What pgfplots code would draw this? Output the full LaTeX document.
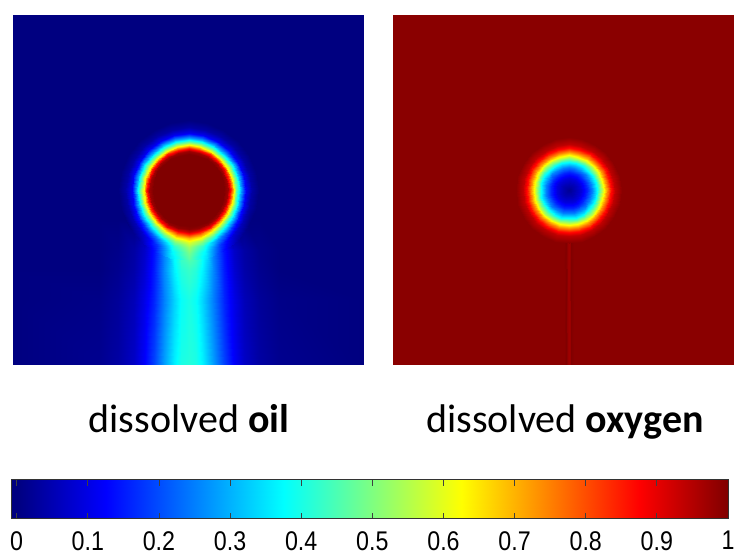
\documentclass[border=0pt]{standalone}
\usepackage{pgfplots}
\pgfplotsset{compat=1.18}
\usepackage{fontspec}
\setmainfont{Carlito}
\newfontfamily\ticksfont[FakeStretch=0.86]{Liberation Sans}
\begin{document}
\begin{tikzpicture}
\useasboundingbox (0,0) rectangle (734pt,556pt);
\pgfplotsset{panel/.style={scale only axis, hide axis, anchor=south west,
  colormap/jet, point meta min=0, point meta max=1,
  ymin=-174.5, ymax=175.5, height=350pt}}
% ---------------- dissolved oil ----------------
\begin{axis}[panel, at={(13pt,191pt)}, width=351pt, xmin=-175.5, xmax=175.5]
\addplot[surf, shader=interp, mesh/cols=19, point meta=explicit] coordinates {
(-175.5,-174.5)[0] (-90,-174.5)[0.015] (-70,-174.5)[0.035] (-55,-174.5)[0.07] (-45,-174.5)[0.12] (-35,-174.5)[0.19] (-25,-174.5)[0.28] (-15,-174.5)[0.36] (-7,-174.5)[0.40] (0,-174.5)[0.41] (7,-174.5)[0.40] (15,-174.5)[0.36] (25,-174.5)[0.28] (35,-174.5)[0.19] (45,-174.5)[0.12] (55,-174.5)[0.07] (70,-174.5)[0.035] (90,-174.5)[0.015] (175.5,-174.5)[0]
(-175.5,-110)[0] (-90,-110)[0.008] (-70,-110)[0.025] (-55,-110)[0.055] (-45,-110)[0.10] (-35,-110)[0.16] (-25,-110)[0.25] (-15,-110)[0.33] (-7,-110)[0.38] (0,-110)[0.40] (7,-110)[0.38] (15,-110)[0.33] (25,-110)[0.25] (35,-110)[0.16] (45,-110)[0.10] (55,-110)[0.055] (70,-110)[0.025] (90,-110)[0.008] (175.5,-110)[0]
(-175.5,-80)[0] (-90,-80)[0] (-70,-80)[0.015] (-55,-80)[0.04] (-45,-80)[0.08] (-35,-80)[0.15] (-25,-80)[0.26] (-15,-80)[0.36] (-7,-80)[0.41] (0,-80)[0.43] (7,-80)[0.41] (15,-80)[0.36] (25,-80)[0.26] (35,-80)[0.15] (45,-80)[0.08] (55,-80)[0.04] (70,-80)[0.015] (90,-80)[0] (175.5,-80)[0]
(-175.5,-60)[0] (-90,-60)[0] (-70,-60)[0.01] (-55,-60)[0.035] (-45,-60)[0.07] (-35,-60)[0.14] (-25,-60)[0.25] (-15,-60)[0.38] (-7,-60)[0.45] (0,-60)[0.48] (7,-60)[0.45] (15,-60)[0.38] (25,-60)[0.25] (35,-60)[0.14] (45,-60)[0.07] (55,-60)[0.035] (70,-60)[0.01] (90,-60)[0] (175.5,-60)[0]
(-175.5,-30)[0] (-90,-30)[0] (-70,-30)[0] (-55,-30)[0] (-45,-30)[0] (-35,-30)[0] (-25,-30)[0] (-15,-30)[0] (-7,-30)[0] (0,-30)[0] (7,-30)[0] (15,-30)[0] (25,-30)[0] (35,-30)[0] (45,-30)[0] (55,-30)[0] (70,-30)[0] (90,-30)[0] (175.5,-30)[0]
(-175.5,175.5)[0] (-90,175.5)[0] (-70,175.5)[0] (-55,175.5)[0] (-45,175.5)[0] (-35,175.5)[0] (-25,175.5)[0] (-15,175.5)[0] (-7,175.5)[0] (0,175.5)[0] (7,175.5)[0] (15,175.5)[0] (25,175.5)[0] (35,175.5)[0] (45,175.5)[0] (55,175.5)[0] (70,175.5)[0] (90,175.5)[0] (175.5,175.5)[0]
};
\addplot[surf, shader=interp, mesh/cols=25, point meta=explicit, data cs=polar] coordinates {
(0,0)[1] (15,0)[1] (30,0)[1] (45,0)[1] (60,0)[1] (75,0)[1] (90,0)[1] (105,0)[1] (120,0)[1] (135,0)[1] (150,0)[1] (165,0)[1] (180,0)[1] (195,0)[1] (210,0)[1] (225,0)[1] (240,0)[1] (255,0)[1] (270,0)[1] (285,0)[1] (300,0)[1] (315,0)[1] (330,0)[1] (345,0)[1] (360,0)[1]
(0,36)[1] (15,36)[1] (30,36)[1] (45,36)[1] (60,36)[1] (75,36)[1] (90,36)[1] (105,36)[1] (120,36)[1] (135,36)[1] (150,36)[1] (165,36)[1] (180,36)[1] (195,36)[1] (210,36)[1] (225,36)[1] (240,36)[1] (255,36)[1] (270,36)[1] (285,36)[1] (300,36)[1] (315,36)[1] (330,36)[1] (345,36)[1] (360,36)[1]
(0,39)[0.97] (15,39)[0.97] (30,39)[0.97] (45,39)[0.97] (60,39)[0.97] (75,39)[0.97] (90,39)[0.97] (105,39)[0.97] (120,39)[0.97] (135,39)[0.97] (150,39)[0.97] (165,39)[0.97] (180,39)[0.97] (195,39)[0.97] (210,39)[0.97] (225,39)[0.97] (240,39)[0.98] (255,39)[0.98] (270,39)[0.99] (285,39)[0.98] (300,39)[0.98] (315,39)[0.97] (330,39)[0.97] (345,39)[0.97] (360,39)[0.97]
(0,42)[0.84] (15,42)[0.84] (30,42)[0.84] (45,42)[0.84] (60,42)[0.84] (75,42)[0.84] (90,42)[0.84] (105,42)[0.84] (120,42)[0.84] (135,42)[0.84] (150,42)[0.84] (165,42)[0.84] (180,42)[0.84] (195,42)[0.84] (210,42)[0.85] (225,42)[0.86] (240,42)[0.88] (255,42)[0.90] (270,42)[0.93] (285,42)[0.90] (300,42)[0.88] (315,42)[0.86] (330,42)[0.85] (345,42)[0.84] (360,42)[0.84]
(0,45)[0.64] (15,45)[0.64] (30,45)[0.64] (45,45)[0.64] (60,45)[0.64] (75,45)[0.64] (90,45)[0.64] (105,45)[0.64] (120,45)[0.64] (135,45)[0.64] (150,45)[0.64] (165,45)[0.64] (180,45)[0.64] (195,45)[0.64] (210,45)[0.67] (225,45)[0.69] (240,45)[0.73] (255,45)[0.77] (270,45)[0.82] (285,45)[0.77] (300,45)[0.73] (315,45)[0.69] (330,45)[0.67] (345,45)[0.64] (360,45)[0.64]
(0,48)[0.48] (15,48)[0.48] (30,48)[0.48] (45,48)[0.48] (60,48)[0.48] (75,48)[0.48] (90,48)[0.48] (105,48)[0.48] (120,48)[0.48] (135,48)[0.48] (150,48)[0.48] (165,48)[0.48] (180,48)[0.48] (195,48)[0.48] (210,48)[0.51] (225,48)[0.54] (240,48)[0.59] (255,48)[0.65] (270,48)[0.70] (285,48)[0.65] (300,48)[0.59] (315,48)[0.54] (330,48)[0.51] (345,48)[0.48] (360,48)[0.48]
(0,52)[0.29] (15,52)[0.29] (30,52)[0.29] (45,52)[0.29] (60,52)[0.29] (75,52)[0.29] (90,52)[0.29] (105,52)[0.29] (120,52)[0.29] (135,52)[0.29] (150,52)[0.29] (165,52)[0.29] (180,52)[0.29] (195,52)[0.29] (210,52)[0.33] (225,52)[0.37] (240,52)[0.43] (255,52)[0.52] (270,52)[0.60] (285,52)[0.52] (300,52)[0.43] (315,52)[0.37] (330,52)[0.33] (345,52)[0.29] (360,52)[0.29]
(0,57)[0.11] (15,57)[0.11] (30,57)[0.11] (45,57)[0.11] (60,57)[0.11] (75,57)[0.11] (90,57)[0.11] (105,57)[0.11] (120,57)[0.11] (135,57)[0.11] (150,57)[0.11] (165,57)[0.11] (180,57)[0.11] (195,57)[0.11] (210,57)[0.15] (225,57)[0.19] (240,57)[0.27] (255,57)[0.42] (270,57)[0.53] (285,57)[0.42] (300,57)[0.27] (315,57)[0.19] (330,57)[0.15] (345,57)[0.11] (360,57)[0.11]
(0,63)[0.035] (15,63)[0.035] (30,63)[0.035] (45,63)[0.035] (60,63)[0.035] (75,63)[0.035] (90,63)[0.035] (105,63)[0.035] (120,63)[0.035] (135,63)[0.035] (150,63)[0.035] (165,63)[0.035] (180,63)[0.035] (195,63)[0.035] (210,63)[0.05] (225,63)[0.08] (240,63)[0.18] (255,63)[0.37] (270,63)[0.49] (285,63)[0.37] (300,63)[0.18] (315,63)[0.08] (330,63)[0.05] (345,63)[0.035] (360,63)[0.035]
(0,70)[0] (15,70)[0] (30,70)[0] (45,70)[0] (60,70)[0] (75,70)[0] (90,70)[0] (105,70)[0] (120,70)[0] (135,70)[0] (150,70)[0] (165,70)[0] (180,70)[0] (195,70)[0] (210,70)[0] (225,70)[0.035] (240,70)[0.14] (255,70)[0.34] (270,70)[0.46] (285,70)[0.34] (300,70)[0.14] (315,70)[0.035] (330,70)[0] (345,70)[0] (360,70)[0]
};
\end{axis}
% ---------------- dissolved oxygen ----------------
\begin{axis}[panel, at={(393pt,191pt)}, width=341pt, xmin=-175.5, xmax=165.5]
\addplot[surf, shader=interp, mesh/cols=2, point meta=explicit] coordinates {
(-175.5,-174.5)[0.99] (165.5,-174.5)[0.99]
(-175.5,175.5)[0.99] (165.5,175.5)[0.99]
};
\addplot[surf, shader=interp, mesh/cols=7, point meta=explicit] coordinates {
(-5,-174.5)[0.99] (-2.5,-174.5)[1] (-1,-174.5)[0.975] (0,-174.5)[0.97] (1,-174.5)[0.975] (2.5,-174.5)[1] (5,-174.5)[0.99]
(-5,-47)[0.99] (-2.5,-47)[1] (-1,-47)[0.975] (0,-47)[0.97] (1,-47)[0.975] (2.5,-47)[1] (5,-47)[0.99]
};
\addplot[surf, shader=interp, mesh/cols=25, point meta=explicit, data cs=polar] coordinates {
(0,0)[0.02] (15,0)[0.02] (30,0)[0.02] (45,0)[0.02] (60,0)[0.02] (75,0)[0.02] (90,0)[0.02] (105,0)[0.02] (120,0)[0.02] (135,0)[0.02] (150,0)[0.02] (165,0)[0.02] (180,0)[0.02] (195,0)[0.02] (210,0)[0.02] (225,0)[0.02] (240,0)[0.02] (255,0)[0.02] (270,0)[0.02] (285,0)[0.02] (300,0)[0.02] (315,0)[0.02] (330,0)[0.02] (345,0)[0.02] (360,0)[0.02]
(0,6)[0.05] (15,6)[0.05] (30,6)[0.05] (45,6)[0.05] (60,6)[0.05] (75,6)[0.05] (90,6)[0.05] (105,6)[0.05] (120,6)[0.05] (135,6)[0.05] (150,6)[0.05] (165,6)[0.05] (180,6)[0.05] (195,6)[0.05] (210,6)[0.05] (225,6)[0.05] (240,6)[0.05] (255,6)[0.05] (270,6)[0.05] (285,6)[0.05] (300,6)[0.05] (315,6)[0.05] (330,6)[0.05] (345,6)[0.05] (360,6)[0.05]
(0,12)[0.09] (15,12)[0.09] (30,12)[0.09] (45,12)[0.09] (60,12)[0.09] (75,12)[0.09] (90,12)[0.09] (105,12)[0.09] (120,12)[0.09] (135,12)[0.09] (150,12)[0.09] (165,12)[0.09] (180,12)[0.09] (195,12)[0.09] (210,12)[0.09] (225,12)[0.09] (240,12)[0.09] (255,12)[0.09] (270,12)[0.09] (285,12)[0.09] (300,12)[0.09] (315,12)[0.09] (330,12)[0.09] (345,12)[0.09] (360,12)[0.09]
(0,18)[0.16] (15,18)[0.16] (30,18)[0.16] (45,18)[0.16] (60,18)[0.16] (75,18)[0.16] (90,18)[0.16] (105,18)[0.16] (120,18)[0.16] (135,18)[0.16] (150,18)[0.16] (165,18)[0.16] (180,18)[0.16] (195,18)[0.16] (210,18)[0.16] (225,18)[0.16] (240,18)[0.16] (255,18)[0.16] (270,18)[0.16] (285,18)[0.16] (300,18)[0.16] (315,18)[0.16] (330,18)[0.16] (345,18)[0.16] (360,18)[0.16]
(0,23)[0.25] (15,23)[0.25] (30,23)[0.25] (45,23)[0.25] (60,23)[0.25] (75,23)[0.25] (90,23)[0.25] (105,23)[0.25] (120,23)[0.25] (135,23)[0.25] (150,23)[0.25] (165,23)[0.25] (180,23)[0.25] (195,23)[0.25] (210,23)[0.25] (225,23)[0.25] (240,23)[0.25] (255,23)[0.25] (270,23)[0.25] (285,23)[0.25] (300,23)[0.25] (315,23)[0.25] (330,23)[0.25] (345,23)[0.25] (360,23)[0.25]
(0,28)[0.38] (15,28)[0.38] (30,28)[0.38] (45,28)[0.38] (60,28)[0.38] (75,28)[0.38] (90,28)[0.38] (105,28)[0.38] (120,28)[0.38] (135,28)[0.38] (150,28)[0.38] (165,28)[0.38] (180,28)[0.38] (195,28)[0.38] (210,28)[0.38] (225,28)[0.38] (240,28)[0.38] (255,28)[0.38] (270,28)[0.38] (285,28)[0.38] (300,28)[0.38] (315,28)[0.38] (330,28)[0.38] (345,28)[0.38] (360,28)[0.38]
(0,33)[0.55] (15,33)[0.55] (30,33)[0.55] (45,33)[0.55] (60,33)[0.55] (75,33)[0.55] (90,33)[0.55] (105,33)[0.55] (120,33)[0.55] (135,33)[0.55] (150,33)[0.55] (165,33)[0.55] (180,33)[0.55] (195,33)[0.55] (210,33)[0.55] (225,33)[0.55] (240,33)[0.55] (255,33)[0.55] (270,33)[0.55] (285,33)[0.55] (300,33)[0.55] (315,33)[0.55] (330,33)[0.55] (345,33)[0.55] (360,33)[0.55]
(0,38)[0.73] (15,38)[0.73] (30,38)[0.73] (45,38)[0.73] (60,38)[0.73] (75,38)[0.73] (90,38)[0.73] (105,38)[0.73] (120,38)[0.73] (135,38)[0.73] (150,38)[0.73] (165,38)[0.73] (180,38)[0.73] (195,38)[0.73] (210,38)[0.73] (225,38)[0.73] (240,38)[0.73] (255,38)[0.73] (270,38)[0.73] (285,38)[0.73] (300,38)[0.73] (315,38)[0.73] (330,38)[0.73] (345,38)[0.73] (360,38)[0.73]
(0,42)[0.86] (15,42)[0.86] (30,42)[0.86] (45,42)[0.86] (60,42)[0.86] (75,42)[0.86] (90,42)[0.86] (105,42)[0.86] (120,42)[0.86] (135,42)[0.86] (150,42)[0.86] (165,42)[0.86] (180,42)[0.86] (195,42)[0.86] (210,42)[0.86] (225,42)[0.86] (240,42)[0.86] (255,42)[0.86] (270,42)[0.86] (285,42)[0.86] (300,42)[0.86] (315,42)[0.86] (330,42)[0.86] (345,42)[0.86] (360,42)[0.86]
(0,46)[0.94] (15,46)[0.94] (30,46)[0.94] (45,46)[0.94] (60,46)[0.94] (75,46)[0.94] (90,46)[0.94] (105,46)[0.94] (120,46)[0.94] (135,46)[0.94] (150,46)[0.94] (165,46)[0.94] (180,46)[0.94] (195,46)[0.94] (210,46)[0.94] (225,46)[0.94] (240,46)[0.94] (255,46)[0.94] (270,46)[0.94] (285,46)[0.94] (300,46)[0.94] (315,46)[0.94] (330,46)[0.94] (345,46)[0.94] (360,46)[0.94]
(0,53)[0.99] (15,53)[0.99] (30,53)[0.99] (45,53)[0.99] (60,53)[0.99] (75,53)[0.99] (90,53)[0.99] (105,53)[0.99] (120,53)[0.99] (135,53)[0.99] (150,53)[0.99] (165,53)[0.99] (180,53)[0.99] (195,53)[0.99] (210,53)[0.99] (225,53)[0.99] (240,53)[0.99] (255,53)[0.99] (270,53)[0.99] (285,53)[0.99] (300,53)[0.99] (315,53)[0.99] (330,53)[0.99] (345,53)[0.99] (360,53)[0.99]
};
\end{axis}
% ---------------- labels ----------------
\node[anchor=base, font=\fontsize{40}{40}\selectfont, inner sep=0pt] at (189pt,123pt) {dissolved \textbf{oil}};
\node[anchor=base, font=\fontsize{40}{40}\selectfont, inner sep=0pt] at (565pt,123pt) {dissolved \textbf{oxygen}};
% ---------------- colour bar ----------------
\begin{axis}[scale only axis, anchor=south west, at={(11pt,37pt)},
  width=717pt, height=39pt, colormap/jet, point meta min=0, point meta max=1,
  xmin=-0.008, xmax=1, ymin=0, ymax=1, axis on top,
  xtick={0,0.1,0.2,0.3,0.4,0.5,0.6,0.7,0.8,0.9,1},
  xticklabels={0,0.1,0.2,0.3,0.4,0.5,0.6,0.7,0.8,0.9,1},
  ytick=\empty, xtick pos=both, xticklabel pos=lower, tick align=inside,
  major tick length=6pt,
  every tick/.style={black!75, line width=0.8pt},
  axis line style={black!80, line width=1pt},
  xticklabel style={font=\ticksfont\fontsize{27}{27}\selectfont, inner sep=0pt, anchor=north, yshift=-12pt}]
\addplot[surf, shader=interp, mesh/cols=3, point meta=explicit] coordinates {
(-0.008,0)[0] (0,0)[0] (1,0)[1]
(-0.008,1)[0] (0,1)[0] (1,1)[1]
};
\end{axis}
\end{tikzpicture}
\end{document}
